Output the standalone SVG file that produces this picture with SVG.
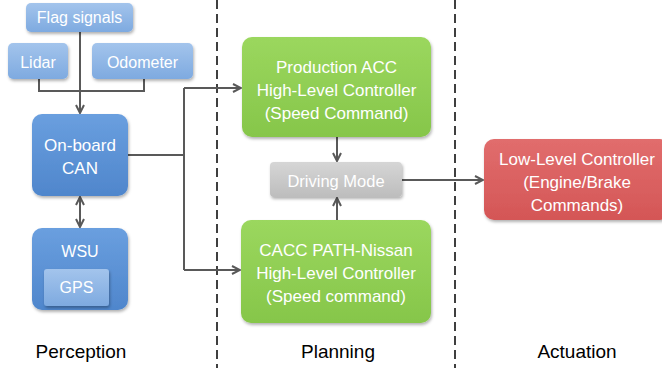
<svg xmlns="http://www.w3.org/2000/svg" width="662" height="368" viewBox="0 0 662 368">
<defs>
<style>
.t{font-family:"Liberation Sans",Arial,sans-serif;fill:#fff;text-anchor:middle}
.lbl{font-family:"Liberation Sans",Arial,sans-serif;fill:#000;text-anchor:middle;font-size:19px}
.c{fill:none;stroke:#595959;stroke-width:2}
.d{stroke:#000;stroke-width:1.5;stroke-dasharray:9,5;fill:none}
</style>
<linearGradient id="gb" x1="0" y1="0" x2="0" y2="1"><stop offset="0" stop-color="#6a9fdf"/><stop offset="1" stop-color="#4f86cc"/></linearGradient>
<linearGradient id="gl" x1="0" y1="0" x2="0" y2="1"><stop offset="0" stop-color="#a3c4ec"/><stop offset="1" stop-color="#7eaae0"/></linearGradient>
<linearGradient id="gg" x1="0" y1="0" x2="0" y2="1"><stop offset="0" stop-color="#9bd75e"/><stop offset="1" stop-color="#86c64a"/></linearGradient>
<linearGradient id="gr" x1="0" y1="0" x2="0" y2="1"><stop offset="0" stop-color="#e16d6d"/><stop offset="1" stop-color="#d45656"/></linearGradient>
<linearGradient id="gy" x1="0" y1="0" x2="0" y2="1"><stop offset="0" stop-color="#d6d6d6"/><stop offset="1" stop-color="#bdbdbd"/></linearGradient>
<filter id="sh" x="-10%" y="-10%" width="125%" height="130%"><feDropShadow dx="1" dy="2" stdDeviation="1.5" flood-color="#000" flood-opacity="0.3"/></filter>
<marker id="ah" viewBox="0 0 10 10" refX="9" refY="5" markerWidth="10" markerHeight="10" markerUnits="userSpaceOnUse" orient="auto-start-reverse">
<path d="M1,1 L9,5 L1,9" fill="none" stroke="#595959" stroke-width="2"/>
</marker>
</defs>
<rect width="662" height="368" fill="#fff"/>
<g id="dividers">
<line class="d" x1="217" y1="0" x2="217" y2="368"/>
<line class="d" x1="455" y1="0" x2="455" y2="368"/>
</g>
<g id="connectors">
<path class="c" d="M80,32 V113" marker-end="url(#ah)"/>
<path class="c" d="M39,79 V91 H144 V79"/>
<path class="c" d="M80,197 V227" marker-start="url(#ah)" marker-end="url(#ah)"/>
<path class="c" d="M128,155 H184"/>
<path class="c" d="M184,88 V270"/>
<path class="c" d="M184,88 H241" marker-end="url(#ah)"/>
<path class="c" d="M184,270 H240" marker-end="url(#ah)"/>
<path class="c" d="M337,137 V161" marker-end="url(#ah)"/>
<path class="c" d="M337,220 V198" marker-end="url(#ah)"/>
<path class="c" d="M402,180 H483" marker-end="url(#ah)"/>
</g>
<g id="flag"><rect x="26" y="3" width="107" height="29" rx="5" fill="url(#gl)" filter="url(#sh)"/><text class="t" x="79.5" y="23" font-size="16">Flag signals</text></g>
<g id="lidar"><rect x="8" y="43" width="60" height="36" rx="5" fill="url(#gl)" filter="url(#sh)"/><text class="t" x="38" y="68" font-size="16">Lidar</text></g>
<g id="odometer"><rect x="92" y="43" width="101" height="36" rx="5" fill="url(#gl)" filter="url(#sh)"/><text class="t" x="142.5" y="68" font-size="16">Odometer</text></g>
<g id="can"><rect x="32" y="114" width="96" height="82" rx="10" fill="url(#gb)" filter="url(#sh)"/><text class="t" x="80" y="151" font-size="17">On-board</text><text class="t" x="80" y="174" font-size="17">CAN</text></g>
<g id="wsu"><rect x="32" y="228" width="96" height="82" rx="10" fill="url(#gb)" filter="url(#sh)"/><text class="t" x="80" y="257" font-size="16">WSU</text>
<g id="gps"><rect x="44" y="269" width="65" height="37" rx="3" fill="url(#gl)" filter="url(#sh)"/><text class="t" x="76.5" y="293" font-size="16">GPS</text></g></g>
<g id="acc"><rect x="242" y="37" width="189" height="100" rx="10" fill="url(#gg)" filter="url(#sh)"/><text class="t" x="336.5" y="73" font-size="17">Production ACC</text><text class="t" x="336.5" y="96" font-size="17">High-Level Controller</text><text class="t" x="336.5" y="119" font-size="17">(Speed Command)</text></g>
<g id="mode"><rect x="270" y="162" width="132" height="35" rx="4" fill="url(#gy)" filter="url(#sh)"/><text class="t" x="336" y="187" font-size="16.5">Driving Mode</text></g>
<g id="cacc"><rect x="241" y="220" width="190" height="103" rx="10" fill="url(#gg)" filter="url(#sh)"/><text class="t" x="336" y="256" font-size="17">CACC PATH-Nissan</text><text class="t" x="336" y="279" font-size="17">High-Level Controller</text><text class="t" x="336" y="302" font-size="17">(Speed command)</text></g>
<g id="llc"><rect x="484" y="139" width="186" height="81" rx="10" fill="url(#gr)" filter="url(#sh)"/><text class="t" x="577" y="165" font-size="17">Low-Level Controller</text><text class="t" x="577" y="188" font-size="17">(Engine/Brake</text><text class="t" x="577" y="211" font-size="17">Commands)</text></g>
<g id="labels">
<text class="lbl" x="81" y="358">Perception</text>
<text class="lbl" x="338" y="358">Planning</text>
<text class="lbl" x="577" y="358">Actuation</text>
</g>
</svg>
